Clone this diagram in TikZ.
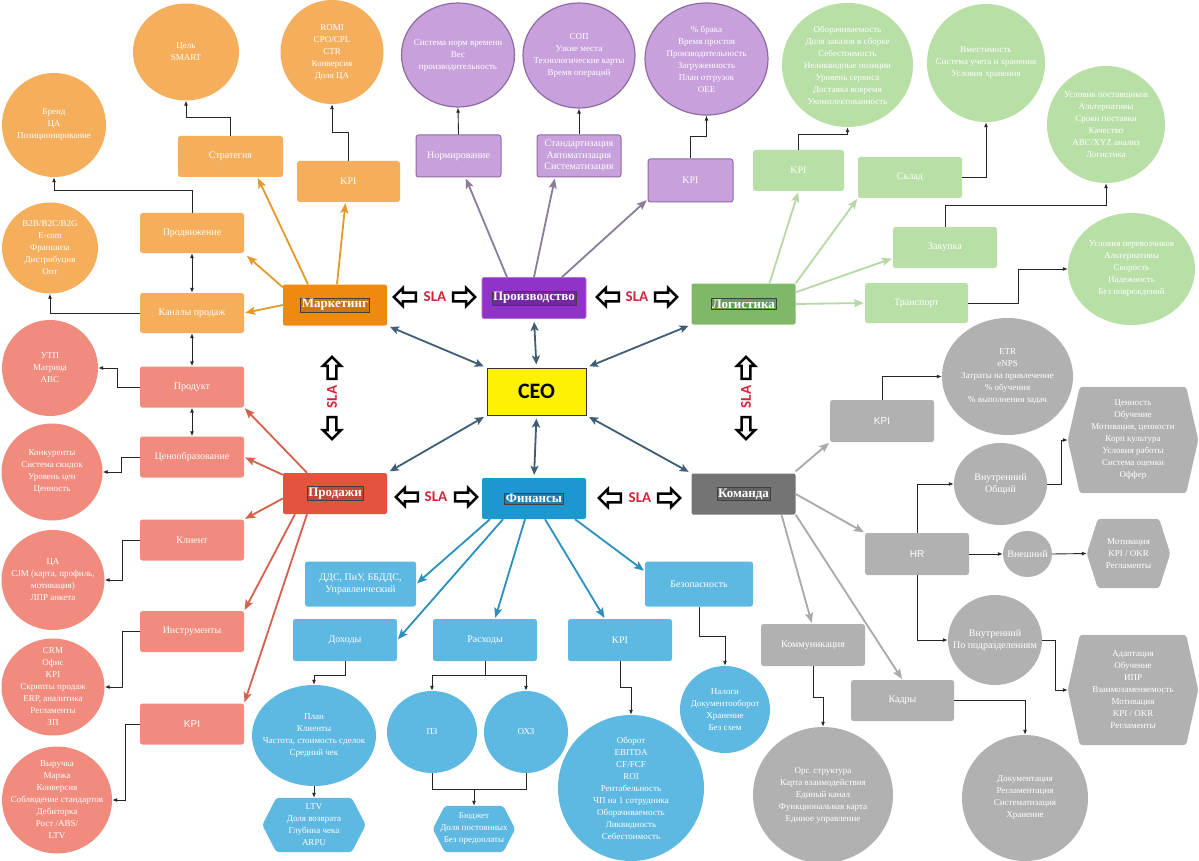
\documentclass[tikz,border=0pt]{standalone}
\usepackage{fontspec}
\setmainfont{Liberation Serif}
\setsansfont{Liberation Sans}
\newfontfamily\carlito{Carlito}
\usetikzlibrary{shapes.geometric,shapes.arrows,arrows.meta,calc}

\definecolor{mkD}{HTML}{EF8A10}
\definecolor{mkL}{HTML}{F4AE5C}
\definecolor{mkA}{HTML}{E5982C}
\definecolor{prD}{HTML}{9132C8}
\definecolor{prL}{HTML}{C8A0DC}
\definecolor{prB}{HTML}{8E6BA3}
\definecolor{prA}{HTML}{8C7C9C}
\definecolor{lgD}{HTML}{80B86A}
\definecolor{lgL}{HTML}{B7DFA6}
\definecolor{lgA}{HTML}{B6D8A5}
\definecolor{slD}{HTML}{E4533F}
\definecolor{slL}{HTML}{F08B7D}
\definecolor{slA}{HTML}{D5604E}
\definecolor{fnD}{HTML}{1E96CF}
\definecolor{fnL}{HTML}{5DB8E2}
\definecolor{fnA}{HTML}{2A90BE}
\definecolor{tmD}{HTML}{747474}
\definecolor{tmL}{HTML}{B1B1B1}
\definecolor{tmA}{HTML}{A9A9A9}
\definecolor{ceoA}{HTML}{3E5E78}
\definecolor{slaR}{HTML}{D0243C}

\tikzset{
  mainbox/.style={rounded corners=2pt, minimum width=104pt, minimum height=41pt, inner sep=0pt},
  mainlbl/.style={draw=black!75, line width=0.6pt, inner sep=1.2pt, text=white, font=\fontsize{13}{14}\selectfont\bfseries},
  subbox/.style={rounded corners=2.5pt, minimum width=104pt, minimum height=41pt, text=white, align=center, inner sep=1pt, font=\fontsize{10}{11.5}\selectfont},
  circ/.style={ellipse, inner sep=0pt},
  ctext/.style={text=white, align=center, font=\fontsize{9}{12}\selectfont, inner sep=0pt},
  ltext/.style={text=white, align=center, font=\fontsize{10}{12}\selectfont, inner sep=0pt},
  conn/.style={draw=black!85, line width=0.9pt, -{Latex[length=5pt,width=4pt]}},
  plain/.style={draw=black!85, line width=0.9pt},
  dconn/.style={draw=black!85, line width=0.9pt, {Latex[length=5pt,width=4pt]}-{Latex[length=5pt,width=4pt]}},
  carr/.style={line width=1.8pt, -{Stealth[length=10pt,width=8pt,inset=2pt]}, shorten >=1pt},
  ceoarr/.style={draw=ceoA, line width=1.8pt, {Stealth[length=9pt,width=8pt,inset=2pt]}-{Stealth[length=9pt,width=8pt,inset=2pt]}, shorten >=3pt, shorten <=3pt},
  slaarrow/.style={single arrow, draw=black, line width=2.4pt, fill=white, minimum height=22pt, minimum width=18pt, inner sep=2.5pt, single arrow head extend=4pt},
  slatext/.style={text=slaR, font=\carlito\bfseries\fontsize{15}{15}\selectfont, inner sep=0pt},
}

\newcommand\hexnode[7]{%
  \node[minimum width=#3, minimum height=#4, inner sep=0pt] (#1) at (#2) {};
  \fill[#6, rounded corners=3pt] (#1.west) -- ([xshift=#5]#1.north west) -- ([xshift=-#5]#1.north east) -- (#1.east) -- ([xshift=-#5]#1.south east) -- ([xshift=#5]#1.south west) -- cycle;
  \node[ctext] (#1T) at (#1) {#7};
}

\begin{document}
\begin{tikzpicture}[x=1pt,y=-1pt]
\useasboundingbox (0,0) rectangle (1199,861);
\fill[white] (0,0) rectangle (1199,861);

% ================= MAIN NODES =================
\node[mainbox, fill=mkD] (mk) at (335,305) {};
\node[mainlbl, fill=mkD!85!black] (mkT) at (mk) {Маркетинг};
\node[mainbox, fill=prD, draw=prD!70!white, line width=0.8pt] (pr) at (534,298) {};
\node[mainlbl, fill=prD!80!black] (prT) at (pr) {Производство};
\node[mainbox, fill=lgD] (lg) at (743.5,304) {};
\node[mainlbl, fill=lgD!85!black] (lgT) at (lg) {Логистика};
\node[mainbox, fill=slD] (sl) at (335,493.5) {};
\node[mainlbl, fill=slD!85!black] (slT) at (sl) {Продажи};
\node[mainbox, fill=fnD] (fn) at (534,498.5) {};
\node[mainlbl, fill=fnD!85!black] (fnT) at (fn) {Финансы};
\node[mainbox, fill=tmD] (tm) at (743.5,494) {};
\node[mainlbl, fill=tmD!85!black] (tmT) at (tm) {Команда};

\node[draw=black!80, line width=1pt, fill=yellow, minimum width=99pt, minimum height=47pt, font=\carlito\bfseries\fontsize{22}{22}\selectfont] (ceo) at (536.5,391.5) {CEO};

% CEO connections
\draw[ceoarr] (mk.south east) -- (ceo.north west);
\draw[ceoarr] (pr.south) -- (ceo.north);
\draw[ceoarr] (lg.south west) -- (ceo.north east);
\draw[ceoarr] (sl.north east) -- (ceo.south west);
\draw[ceoarr] (fn.north) -- (ceo.south);
\draw[ceoarr] (tm.north west) -- (ceo.south east);

% SLA
\node[slaarrow, shape border rotate=180] (s1l) at (407,297) {};
\node[slatext] (s1t) at (435,297) {SLA};
\node[slaarrow] (s1r) at (462,297) {};
\node[slaarrow, shape border rotate=180] (s2l) at (610,297) {};
\node[slatext] (s2t) at (637,297) {SLA};
\node[slaarrow] (s2r) at (664,297) {};
\node[slaarrow, shape border rotate=180] (s3l) at (409,497) {};
\node[slatext] (s3t) at (436,497) {SLA};
\node[slaarrow] (s3r) at (464,497) {};
\node[slaarrow, shape border rotate=180] (s4l) at (612,498) {};
\node[slatext] (s4t) at (640,498) {SLA};
\node[slaarrow] (s4r) at (667,498) {};
\node[slaarrow, shape border rotate=90] (s5u) at (332,370) {};
\node[slatext, rotate=90] (s5t) at (332,397) {SLA};
\node[slaarrow, shape border rotate=270] (s5d) at (332,426) {};
\node[slaarrow, shape border rotate=90] (s6u) at (746,370) {};
\node[slatext, rotate=90] (s6t) at (746,397) {SLA};
\node[slaarrow, shape border rotate=270] (s6d) at (746,426) {};

% ================= MARKETING =================
\node[subbox, fill=mkL, minimum width=105pt] (st) at (230.5,156.5) {Стратегия};
\node[subbox, fill=mkL, minimum width=103pt] (mkpi) at (348.5,181.5) {KPI};
\node[subbox, fill=mkL, minimum height=40pt] (prom) at (192,233) {Продвижение};
\node[subbox, fill=mkL, minimum height=40pt] (chan) at (192,313) {Каналы продаж};

\node[circ, fill=mkL, minimum width=106pt, minimum height=97pt] (cst) at (186,52) {};
\node[ctext] (cstT) at (cst) {Цель\\SMART};
\node[circ, fill=mkL, minimum width=103pt, minimum height=104pt] (cmkpi) at (332,52) {};
\node[ctext] (cmkpiT) at (cmkpi) {ROMI\\CPO/CPL\\CTR\\Конверсия\\Доля ЦА};
\node[circ, fill=mkL, minimum width=104pt, minimum height=104pt] (cbrand) at (54,125) {};
\node[ctext] (cbrandT) at (cbrand) {Бренд\\ЦА\\Позиционирование};
\node[circ, fill=mkL, minimum width=96pt, minimum height=91pt] (cchan) at (50,248) {};
\node[ctext] (cchanT) at (cchan) {B2B/B2C/B2G\\E-com\\Франшиза\\Дистрибуция\\Опт};

\draw[carr, draw=mkA] ([xshift=-27pt]mk.north) -- ([xshift=27pt]st.south);
\draw[carr, draw=mkA] ([xshift=2pt]mk.north) -- ([xshift=-3pt]mkpi.south);
\draw[carr, draw=mkA] ([yshift=-3pt]mk.north west) -- ([xshift=2pt,yshift=-2pt]prom.south east);
\draw[carr, draw=mkA] (mk.west) -- (chan.east);

\draw[conn] (st.north) -- ++(0,-18) -| (cst.south);
\draw[conn] (mkpi.north) -- ++(0,-28) -| (cmkpi.south);
\draw[conn] (prom.north) -- ++(0,-22) -| (cbrand.south);
\draw[conn] (chan.west) -| (cchan.south);
\draw[dconn] (prom.south) -- (chan.north);

% ================= SALES =================
\node[subbox, fill=slL] (prod) at (192,387) {Продукт};
\node[subbox, fill=slL] (price) at (192,457) {Ценообразование};
\node[subbox, fill=slL] (client) at (192,540) {Клиент};
\node[subbox, fill=slL] (instr) at (192,631.5) {Инструменты};
\node[subbox, fill=slL, font=\sffamily\fontsize{10}{11.5}\selectfont] (skpi) at (192,724) {KPI};

\draw[dconn] (chan.south) -- (prod.north);
\draw[dconn] (prod.south) -- (price.north);

\node[circ, fill=slL, minimum width=96pt, minimum height=96pt] (cprod) at (50,368) {};
\node[ctext] (cprodT) at (cprod) {УТП\\Матрица\\ABC};
\node[circ, fill=slL, minimum width=101pt, minimum height=97pt] (cprice) at (52,472) {};
\node[ctext] (cpriceT) at (cprice) {Конкуренты\\Система скидок\\Уровень цен\\Ценность};
\node[circ, fill=slL, minimum width=103pt, minimum height=100pt] (cclient) at (53,580) {};
\node[ctext] (cclientT) at (cclient) {ЦА\\CJM (карта, профиль,\\мотивация)\\ЛПР анкета};
\node[circ, fill=slL, minimum width=103pt, minimum height=97pt] (cinstr) at (53,687) {};
\node[ctext] (cinstrT) at (cinstr) {CRM\\Офис\\KPI\\Скрипты продаж\\ERP, аналитика\\Регламенты\\ЗП};
\node[circ, fill=slL, minimum width=110pt, minimum height=107pt] (cskpi) at (57,800) {};
\node[ctext] (cskpiT) at (cskpi) {Выручка\\Маржа\\Конверсия\\Соблюдение стандартов\\Дебиторка\\Рост /ABS/\\LTV};

\draw[carr, draw=slA] ([xshift=-28pt]sl.north) -- (prod.south east);
\draw[carr, draw=slA] ([yshift=-2pt]sl.north west) -- (price.east);
\draw[carr, draw=slA] ([yshift=-5pt]sl.west) -- (client.north east);
\draw[carr, draw=slA] ([xshift=-40pt]sl.south) -- (instr.north east);
\draw[carr, draw=slA] ([xshift=-28pt]sl.south) -- (skpi.north east);

\draw[conn] (prod.west) -- ++(-22,0) |- (cprod.east);
\draw[conn] (price.west) -- ++(-18,0) |- (cprice.east);
\draw[conn] (client.west) -- ++(-17,0) |- (cclient.east);
\draw[conn] (instr.west) -- ++(-17,0) |- (cinstr.east);
\draw[conn] (skpi.west) -- ++(-14,0) |- (cskpi.east);

% ================= PRODUCTION =================
\node[subbox, fill=prL, draw=prB, line width=1pt, minimum width=85pt, minimum height=42pt] (norm) at (458.5,156) {Нормирование};
\node[subbox, fill=prL, draw=prB, line width=1pt, minimum width=84pt, minimum height=42pt] (std) at (579,156) {Стандартизация\\Автоматизация\\Систематизация};
\node[subbox, fill=prL, draw=prB, line width=1pt, minimum width=85pt, minimum height=43pt] (pkpi) at (690.5,180.5) {KPI};

\node[circ, fill=prL, draw=prB, line width=1.2pt, minimum width=113pt, minimum height=104pt] (cnorm) at (458,55) {};
\node[ctext] (cnormT) at (cnorm) {Система норм времени\\Вес\\производительность};
\node[circ, fill=prL, draw=prB, line width=1.2pt, minimum width=112pt, minimum height=105pt] (cstd) at (579,55.5) {};
\node[ctext] (cstdT) at (cstd) {СОП\\Узкие места\\Технологические карты\\Время операций};
\node[circ, fill=prL, draw=prB, line width=1.2pt, minimum width=123pt, minimum height=112pt] (cpkpi) at (706.5,59) {};
\node[ctext] (cpkpiT) at (cpkpi) {\% брака\\Время простоя\\Производительность\\Загруженность\\План отгрузок\\OEE};

\draw[carr, draw=prA] ([xshift=-27pt]pr.north) -- ([xshift=7pt]norm.south);
\draw[carr, draw=prA] (pr.north) -- ([xshift=-24pt]std.south);
\draw[carr, draw=prA] ([xshift=28pt]pr.north) -- ([yshift=3pt]pkpi.south west);

\draw[conn] (norm.north) -- (cnorm.south);
\draw[conn] (std.north) -- (cstd.south);
\draw[conn] (pkpi.north) -- ++(0,-22) -| (cpkpi.south);

% ================= LOGISTICS =================
\node[subbox, fill=lgL, minimum width=91pt] (lkpi) at (798.5,170.5) {KPI};
\node[subbox, fill=lgL] (sklad) at (910,177.5) {Склад};
\node[subbox, fill=lgL] (zak) at (945,247.5) {Закупка};
\node[subbox, fill=lgL, minimum width=103pt, minimum height=40pt] (trans) at (916.5,303) {Транспорт};

\node[circ, fill=lgL, minimum width=131pt, minimum height=124pt] (clkpi) at (847.5,65) {};
\node[ctext] (clkpiT) at (clkpi) {Оборачиваемость\\Доля заказов в сборке\\Себестоимость\\Неликвидные позиции\\Уровень сервиса\\Доставка вовремя\\Укомплектованность};
\node[circ, fill=lgL, minimum width=118pt, minimum height=118pt] (csklad) at (986,63) {};
\node[ctext] (cskladT) at (csklad) {Вместимость\\Система учета и хранения\\Условия хранения};
\node[circ, fill=lgL, minimum width=118pt, minimum height=117pt] (czak) at (1106,124.5) {};
\node[ctext] (czakT) at (czak) {Условия поставщиков\\Альтернативы\\Сроки поставки\\Качество\\ABC/XYZ анализ\\Логистика};
\node[circ, fill=lgL, minimum width=127pt, minimum height=112pt] (ctrans) at (1131.5,269) {};
\node[ctext] (ctransT) at (ctrans) {Условия перевозчиков\\Альтернативы\\Скорость\\Надежность\\Без повреждений};

\draw[carr, draw=lgA] ([xshift=26pt]lg.north) -- (lkpi.south);
\draw[carr, draw=lgA] (lg.north east) -- (sklad.south west);
\draw[carr, draw=lgA] ([yshift=-9pt]lg.north east) -- ([yshift=10pt]zak.south west);
\draw[carr, draw=lgA] (lg.east) -- (trans.west);

\draw[conn] (lkpi.north) -- ++(0,-15) -| (clkpi.south);
\draw[conn] (sklad.east) -| (csklad.south);
\draw[conn] (zak.north) -- ++(0,-21) -| (czak.south);
\draw[conn] (trans.east) -- ++(50,0) |- (ctrans.west);

% ================= FINANCE =================
\node[subbox, fill=fnL, minimum width=111pt, minimum height=45pt] (dds) at (360.5,584) {ДДС, ПиУ, ББДДС,\\Управленческий};
\node[subbox, fill=fnL, minimum height=42pt] (doh) at (345,640) {Доходы};
\node[subbox, fill=fnL, minimum height=42pt] (ras) at (485,640) {Расходы};
\node[subbox, fill=fnL, minimum height=42pt] (fkpi) at (620,640) {KPI};
\node[subbox, fill=fnL, minimum width=108pt, minimum height=45pt] (bez) at (699,584) {Безопасность};

\node[circ, fill=fnL, minimum width=124pt, minimum height=101pt] (cdoh) at (314,735.5) {};
\node[ctext] (cdohT) at (cdoh) {План\\Клиенты\\Частота, стоимость сделок\\Средний чек};
\node[circ, fill=fnL, minimum width=90pt, minimum height=82pt] (cpz) at (432,732) {};
\node[ctext] (cpzT) at (cpz) {ПЗ};
\node[circ, fill=fnL, minimum width=84pt, minimum height=82pt] (cozp) at (526,732) {};
\node[ctext] (cozpT) at (cozp) {ОХЗ};
\node[circ, fill=fnL, minimum width=146pt, minimum height=146pt] (cfkpi) at (631,788) {};
\node[ctext] (cfkpiT) at (cfkpi) {Оборот\\EBITDA\\CF/FCF\\ROI\\Рентабельность\\ЧП на 1 сотрудника\\Оборачиваемость\\Ликвидность\\Себестоимость};
\node[circ, fill=fnL, minimum width=90pt, minimum height=87pt] (cbez) at (725,709.5) {};
\node[ctext] (cbezT) at (cbez) {Налоги\\Документооборот\\Хранение\\Без схем};

\hexnode{hdoh}{314,825}{103pt}{54pt}{14pt}{fnL}{LTV\\Доля возврата\\Глубина чека\\ARPU}
\hexnode{hras}{474,829}{82pt}{46pt}{12pt}{fnL}{Бюджет\\Доля постоянных\\Без предоплаты}

\draw[carr, draw=fnA] ([xshift=-44pt]fn.south) -- (dds.east);
\draw[carr, draw=fnA] ([xshift=-31pt]fn.south) -- (doh.east);
\draw[carr, draw=fnA] ([xshift=-9pt]fn.south) -- ([xshift=10pt]ras.north);
\draw[carr, draw=fnA] ([xshift=11pt]fn.south) -- ([xshift=-15pt]fkpi.north);
\draw[carr, draw=fnA] ([xshift=41pt]fn.south) -- ([yshift=-10pt]bez.north west);

\draw[conn] (doh.south) -- ++(0,14) -| (cdoh.north);
\draw[conn] (cdoh.south) -- (hdoh.north);
\draw[plain] (ras.south) -- ++(0,14) coordinate (rj);
\draw[conn] (rj) -| (cpz.north);
\draw[conn] (rj) -| (cozp.north);
\path (cpz.south) ++(0,16) coordinate (mjy);
\coordinate (mj) at (hras.north |- mjy);
\draw[plain] (cpz.south) |- (mj) -| (cozp.south);
\draw[conn] (mj) -- (hras.north);
\draw[conn] (fkpi.south) -- ++(0,26) -| (cfkpi.north);
\draw[conn] (bez.south) -- ++(0,30) -| (cbez.north);

% ================= TEAM =================
\node[subbox, fill=tmL, minimum height=42pt, font=\sffamily\fontsize{10}{11.5}\selectfont] (tkpi) at (882,421) {KPI};
\node[subbox, fill=tmL, minimum height=42pt, font=\sffamily\fontsize{10}{11.5}\selectfont] (hr) at (917,554) {HR};
\node[subbox, fill=tmL, minimum height=42pt] (komm) at (813,645) {Коммуникация};
\node[subbox, fill=tmL, minimum width=103pt] (kadr) at (902.5,700.5) {Кадры};

\node[circ, fill=tmL, minimum width=131pt, minimum height=117pt] (ctkpi) at (1007.5,376.5) {};
\node[ctext] (ctkpiT) at (ctkpi) {ETR\\eNPS\\Затраты на привлечение\\\% обучения\\\% выполнения задач};
\node[circ, fill=tmL, minimum width=93pt, minimum height=82pt] (cobsh) at (1000.5,484) {};
\node[ltext] (cobshT) at (cobsh) {Внутренний\\Общий};
\node[circ, fill=tmL, minimum width=49pt, minimum height=46pt] (cvn) at (1027.5,554) {};
\node[ltext] (cvnT) at (cvn) {Внешний};
\node[circ, fill=tmL, minimum width=94pt, minimum height=90pt] (cpodr) at (995,640) {};
\node[ltext] (cpodrT) at (cpodr) {Внутренний\\По подразделениям};
\node[circ, fill=tmL, minimum width=140pt, minimum height=136pt] (ckomm) at (823,795) {};
\node[ctext] (ckommT) at (ckomm) {Орг. структура\\Карта взаимодействия\\Единый канал\\Функциональная карта\\Единое управление};
\node[circ, fill=tmL, minimum width=126pt, minimum height=126pt] (ckadr) at (1025,798) {};
\node[ctext] (ckadrT) at (ckadr) {Документация\\Регламентация\\Систематизация\\Хранение};

\hexnode{hobsh}{1133,440}{130pt}{106pt}{12pt}{tmL}{Ценность\\Обучение\\Мотивация, ценности\\Корп культура\\Условия работы\\Система оценки\\Оффер}
\hexnode{hvn}{1128.5,553.5}{83pt}{69pt}{11pt}{tmL}{Мотивация\\KPI / OKR\\Регламенты}
\hexnode{hpodr}{1133,690}{130pt}{110pt}{12pt}{tmL}{Адаптация\\Обучение\\ИПР\\Взаимозаменяемость\\Мотивация\\KPI / OKR\\Регламенты}

\draw[carr, draw=tmA] ([yshift=2pt]tm.north east) -- (tkpi.south west);
\draw[carr, draw=tmA] (tm.east) -- (hr.north west);
\draw[carr, draw=tmA] ([xshift=38pt]tm.south) -- ([xshift=-1pt]komm.north);
\draw[carr, draw=tmA] (tm.south east) -- (kadr.north);

\draw[conn] (tkpi.north) |- (ctkpi.west);
\draw[conn] (hr.north) |- (cobsh.west);
\draw[conn] (hr.south) |- (cpodr.west);
\draw[conn] (hr.east) -- (cvn.west);
\draw[conn] (cvn.east) -- (hvn.west);
\draw[conn] (cobsh.east) -- ++(14,0) |- (hobsh.west);
\draw[conn] (cpodr.east) -- ++(13,0) |- (hpodr.west);
\draw[conn] (komm.south) -- ++(0,31) -| (ckomm.north);
\draw[conn] (kadr.east) -| (ckadr.north);

\end{tikzpicture}
\end{document}
